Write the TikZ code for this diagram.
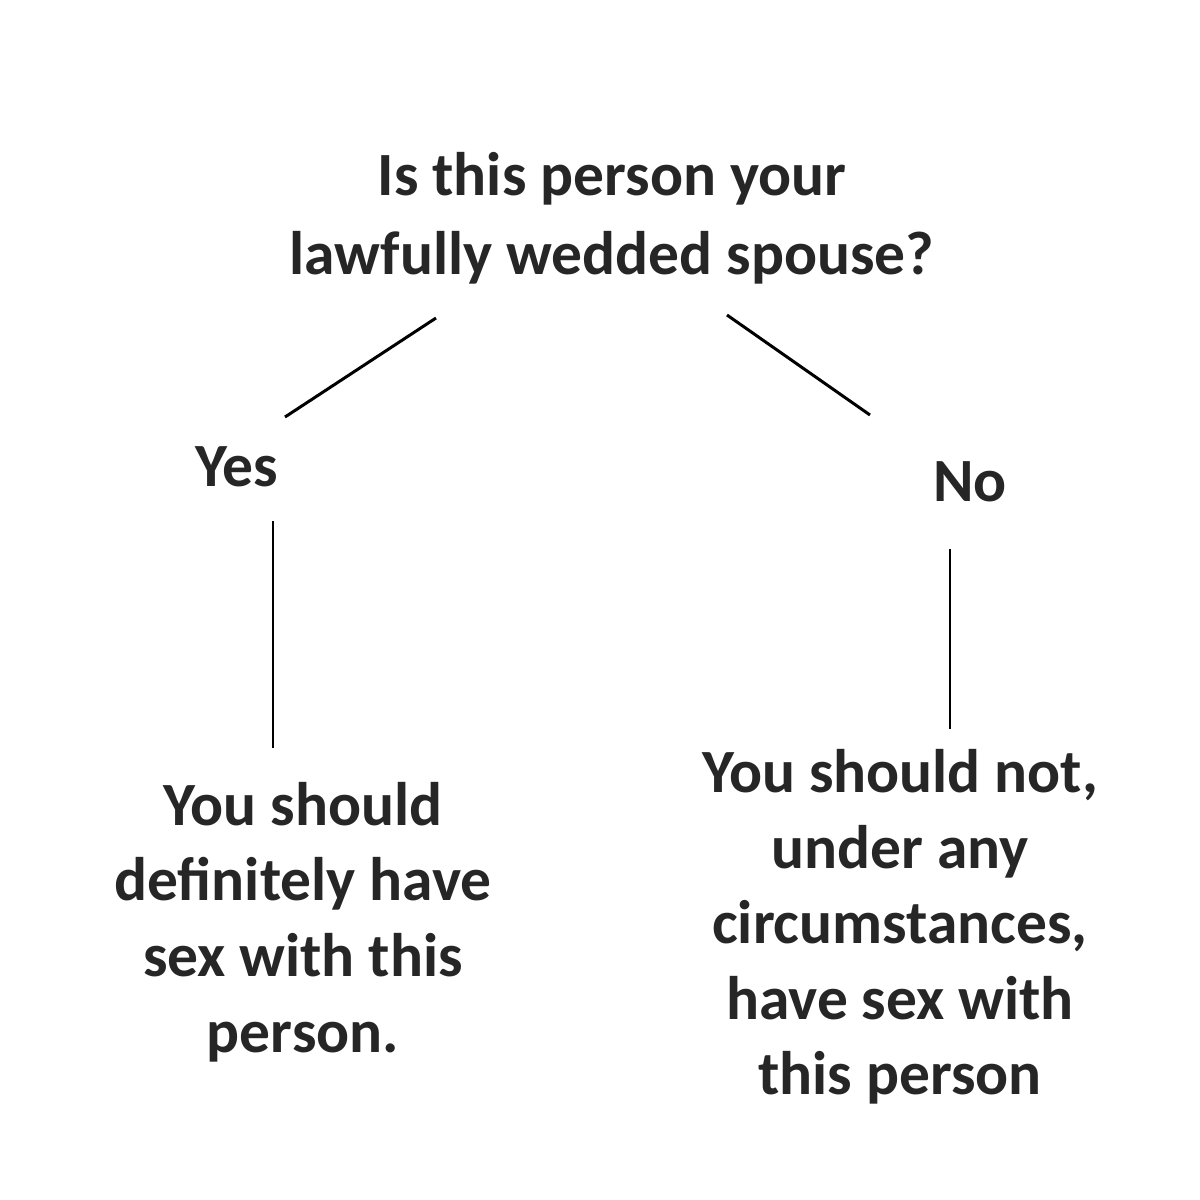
\documentclass[tikz,border=0pt]{standalone}
\usepackage{fontspec}
\setmainfont{Carlito}
\usetikzlibrary{positioning}
\tikzset{
  txt/.style={align=center, font=\bfseries\fontsize{17.5}{22.5}\selectfont, text=black!85},
  branch/.style={line width=0.85pt}
}
\begin{document}
\begin{tikzpicture}
\useasboundingbox (0,0) rectangle (12,-12);

% Question
\node[txt] (Question) at (6.12,-2.18) {Is this person your\\lawfully wedded spouse?};

% Answers
\node[txt] (Yes) at (2.37,-4.67) {Yes};
\node[txt] (No) at (9.70,-4.82) {No};

% Outcomes
\node[txt, font=\bfseries\fontsize{17.5}{21.5}\selectfont] (Do) at (3.03,-9.22) {You should\\definitely have\\sex with this\\person.};
\node[txt, font=\bfseries\fontsize{17.5}{21.5}\selectfont] (Dont) at (9.00,-9.27) {You should not,\\under any\\circumstances,\\have sex with\\this person};

% Line ends
\coordinate (Q-left) at (4.36,-3.18);
\coordinate (Yes-top) at (2.85,-4.17);
\coordinate (Q-right) at (7.27,-3.15);
\coordinate (No-top) at (8.70,-4.15);
\coordinate (Yes-bottom) at (2.73,-5.21);
\coordinate (Do-top) at (2.73,-7.48);
\coordinate (No-bottom) at (9.50,-5.49);
\coordinate (Dont-top) at (9.50,-7.29);

% Branches
\draw[branch] (Q-left) -- (Yes-top);
\draw[branch] (Q-right) -- (No-top);
\draw[branch] (Yes-bottom) -- (Do-top);
\draw[branch] (No-bottom) -- (Dont-top);

\end{tikzpicture}
\end{document}
